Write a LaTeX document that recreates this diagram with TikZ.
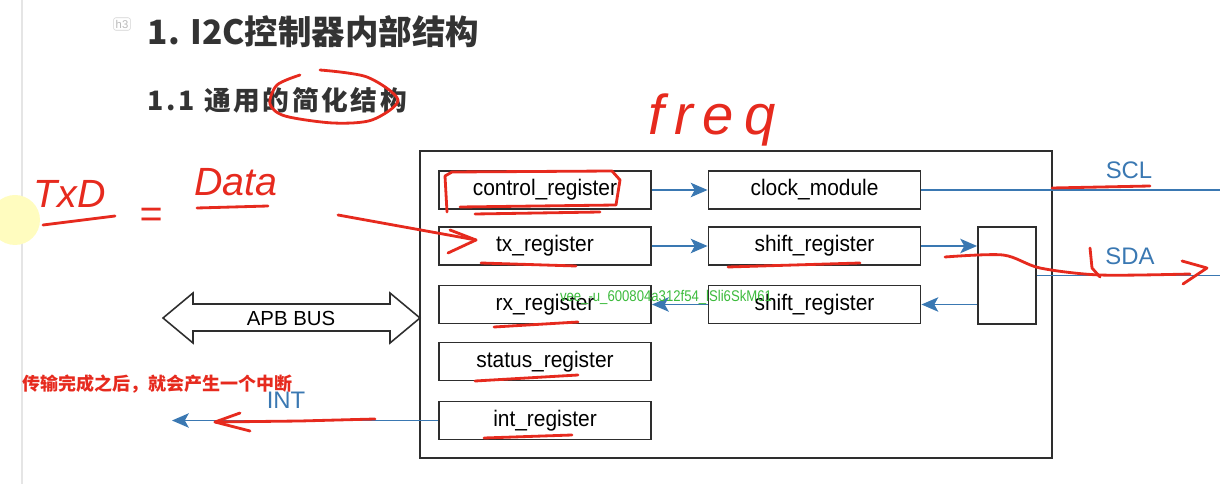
\documentclass[tikz,border=0pt]{standalone}
\usepackage{fontspec}
\setmainfont{Liberation Sans}
\newfontfamily\cjk{Noto Sans CJK SC}
\newfontfamily\boxfont{Liberation Sans}[FakeStretch=0.93]
\newfontfamily\wmfont{Liberation Sans}[FakeStretch=0.85]
\usetikzlibrary{positioning,arrows.meta,calc}
\definecolor{wireblue}{HTML}{3A78B2}
\definecolor{inkred}{HTML}{E62A1E}
\definecolor{boxgray}{HTML}{2E2E2E}
\definecolor{headgray}{HTML}{333333}
\definecolor{wmgreen}{HTML}{3DBB3D}

\begin{document}
\begin{tikzpicture}[
    x=0.025cm,
    y=-0.025cm,
    reg/.style={
        draw=boxgray,
        line width=1.3pt,
        fill=white,
        minimum width=5.3cm,
        minimum height=0.95cm,
        inner sep=0pt,
        font=\boxfont\fontsize{16}{16}\selectfont
    },
    wire/.style={draw=wireblue, line width=1.2pt},
    wirearrow/.style={wire, -{Stealth[length=4.2mm,width=3.6mm,inset=1mm]}},
    sig/.style={text=wireblue, font=\fontsize{17}{17}\selectfont},
    ink/.style={draw=inkred, line width=2pt, line cap=round, line join=round},
    hand/.style={text=inkred, font=\itshape\fontsize{28}{28}\selectfont}
]
\useasboundingbox (0,0) rectangle (1220,484);

% Page furniture
\draw[gray!20, line width=0.8pt] (22,0) -- (22,484);
\fill[yellow!25] (15,220) circle[radius=25];
\node[draw=gray!35, rounded corners=1.5pt, text=gray!55, inner sep=1.5pt,
      font=\fontsize{8}{8}\selectfont] (badge) at (122,24) {h3};

% Headings
\node[anchor=west, text=headgray, font=\cjk\bfseries\fontsize{23.8}{23.8}\selectfont]
    (title) at (143,32) {1. I2C控制器内部结构};
\node[anchor=west, text=headgray, font=\cjk\bfseries\fontsize{19}{19}\selectfont\addfontfeatures{LetterSpace=10}]
    (subtitle) at (143,100) {1.1 通用的简化结构};

% Controller frame
\node[draw=boxgray, line width=1.3pt, minimum width=15.8cm, minimum height=7.675cm,
      inner sep=0pt] (ctl) at (736,304.5) {};

% Left registers
\node[reg] (ctrlreg) at (545,190)   {control\_register};
\node[reg] (txreg)   at (545,246)   {tx\_register};
\node[reg] (rxreg)   at (545,304.5) {rx\_register};
\node[reg] (statreg) at (545,361.5) {status\_register};
\node[reg] (intreg)  at (545,420.5) {int\_register};

% Right column
\node[reg] (clkmod)  at (814.5,190)   {clock\_module};
\node[reg] (shifttx) at (814.5,246)   {shift\_register};
\node[reg] (shiftrx) at (814.5,304.5) {shift\_register};
\node[reg, minimum width=1.45cm, minimum height=2.425cm] (mux) at (1007,275.5) {};

% APB bus
\draw[boxgray, line width=1.1pt, fill=white]
    (163,318) -- (193,293) -- (193,304) -- (390,304) -- (390,293) -- (420,318)
    -- (390,343) -- (390,331) -- (193,331) -- (193,343) -- cycle;
\node[font=\fontsize{14.5}{14.5}\selectfont] (apb) at (291,318) {APB BUS};

% Internal paths
\draw[wirearrow] (ctrlreg) -- (clkmod);
\draw[wirearrow] (txreg) -- (shifttx);
\draw[wirearrow] (shifttx.east) -- (shifttx.east -| mux.west);
\draw[wirearrow] (shiftrx.east -| mux.west) -- (shiftrx.east);
\draw[wirearrow] (shiftrx) -- (rxreg);

% Pins
\coordinate (sclend) at (1220,190);
\coordinate (sdaend) at (1220,275.5);
\coordinate (intend) at (172,420.5);
\draw[wire] (clkmod.east) -- (sclend);
\draw[wire] (mux.east) -- (sdaend);
\draw[wirearrow] (intreg) -- (intend);
\node[sig] (scl) at (1129,170) {SCL};
\node[sig] (sda) at (1130,256) {SDA};
\node[sig] (intlbl) at (286,400) {INT};

% Notes
\node[anchor=west, text=inkred, font=\cjk\bfseries\fontsize{12.8}{12.8}\selectfont]
    (note) at (18,384) {传输完成之后，就会产生一个中断};
\node[text=wmgreen, font=\wmfont\fontsize{11}{11}\selectfont]
    (wm) at (666,297) {vee\_-u\_600804a312f54\_lSli6SkM61};

% Handwriting
\node[hand] (txd)  at (70,194)  {TxD};
\node[hand] (eq)   at (151,218) {=};
\node[hand] (data) at (236,182) {Data};
\node[hand, font=\itshape\fontsize{40}{40}\selectfont\addfontfeatures{LetterSpace=18}]
    (freq) at (712,120) {freq};
\draw[ink] (43,225) -- (115,216);
\draw[ink] (197,208) -- (268,206);
\draw[ink] plot[smooth] coordinates {(320,70) (367,77) (398,100) (372,120) (333,123)
    (285,116) (270,104) (277,85) (300,75)};
\draw[ink] (447,212) -- (445,176) -- (452,172) -- (612,171) -- (620,180) -- (616,205)
    -- (460,207);
\draw[ink] (475,214) -- (600,212);
\draw[ink] (338,215) -- (476,240);
\draw[ink] (450,230) -- (476,240) -- (448,253);
\draw[ink] (481,263) -- (576,266);
\draw[ink] (728,267) -- (860,263);
\draw[ink] (494,327) -- (578,322);
\draw[ink] (475,381) -- (578,375);
\draw[ink] (484,438) -- (572,435);
\draw[ink] (1052,188) -- (1150,186);
\draw[ink] plot[smooth] coordinates {(945,257) (1003,255) (1040,268) (1100,275) (1190,274)};
\draw[ink] (1090,248) -- (1092,268) -- (1100,277);
\draw[ink] (1182,261) -- (1207,268) -- (1183,284);
\draw[ink] (375,419) -- (300,421) -- (215,422);
\draw[ink] (240,413) -- (215,422) -- (250,431);
\end{tikzpicture}
\end{document}
